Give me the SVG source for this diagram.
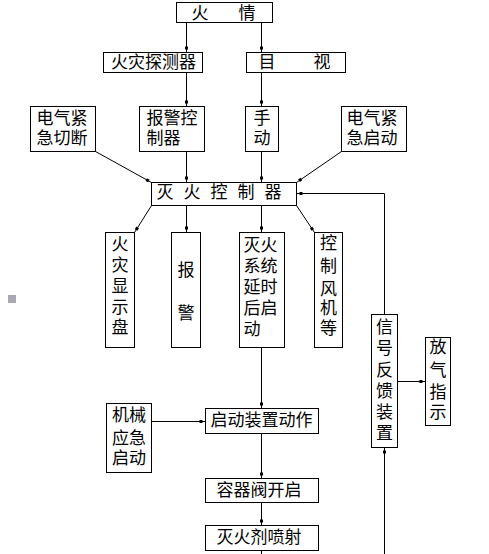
<svg xmlns="http://www.w3.org/2000/svg" width="489" height="554" viewBox="0 0 489 554">
<style>
rect.b{fill:#fff;stroke:#000;stroke-width:1}
text{font-family:"Liberation Sans","Noto Sans CJK SC","Noto Sans CJK JP",sans-serif;font-size:17px;fill:#000}
.m{text-anchor:middle}
.c path,.c line,.c polyline{fill:none;stroke:#000;stroke-width:1;marker-end:url(#dot)}
</style>
<defs>
<marker id="dot" markerUnits="userSpaceOnUse" markerWidth="8" markerHeight="4" viewBox="0 0 8 4" refX="8" refY="2" orient="auto">
<rect x="2" y="0.5" width="3" height="3" fill="#000"/>
</marker>
</defs>
<rect x="8" y="295" width="8" height="8" fill="#a9a9b6"/>
<g class="c" id="connectors">
<line x1="186.5" y1="22.5" x2="186.5" y2="52.5"/>
<line x1="261.5" y1="22.5" x2="261.5" y2="52.5"/>
<line x1="186.5" y1="72.5" x2="186.5" y2="106.5"/>
<line x1="261.5" y1="72.5" x2="261.5" y2="106.5"/>
<line x1="95.5" y1="151.5" x2="151.5" y2="182.5"/>
<line x1="186.5" y1="151.5" x2="186.5" y2="182.5"/>
<line x1="261.5" y1="151.5" x2="261.5" y2="182.5"/>
<line x1="341.5" y1="151.5" x2="296.5" y2="182.5"/>
<line x1="151.5" y1="205.5" x2="134.5" y2="232.5"/>
<line x1="186.5" y1="205.5" x2="186.5" y2="232.5"/>
<line x1="261.5" y1="205.5" x2="261.5" y2="232.5"/>
<line x1="296.5" y1="205.5" x2="314.5" y2="232.5"/>
<polyline points="384.5,314.5 384.5,193.5 296.5,193.5"/>
<line x1="261.5" y1="347.5" x2="261.5" y2="408.5"/>
<line x1="151.5" y1="421.5" x2="205.5" y2="421.5"/>
<line x1="261.5" y1="433.5" x2="261.5" y2="478.5"/>
<line x1="261.5" y1="502.5" x2="261.5" y2="525.5"/>
<line x1="261.5" y1="550.5" x2="261.5" y2="554" style="marker-end:none"/>
<line x1="384.5" y1="554" x2="384.5" y2="447.5"/>
<line x1="397.5" y1="381.5" x2="425.5" y2="381.5"/>
</g>
<g id="n_fire"><rect class="b" x="176.5" y="2.5" width="96" height="20"/><text y="18.5" class="m"><tspan x="200">火</tspan><tspan x="247">情</tspan></text></g>
<g id="n_detector"><rect class="b" x="103.5" y="52.5" width="99" height="20"/><text x="153.5" y="68" class="m">火灾探测器</text></g>
<g id="n_visual"><rect class="b" x="246.5" y="52.5" width="99" height="20"/><text y="68" class="m"><tspan x="267">目</tspan><tspan x="322">视</tspan></text></g>
<g id="n_ecut"><rect class="b" x="30.5" y="106.5" width="65" height="45"/><text><tspan x="36.5" y="124">电气紧</tspan><tspan x="36.5" y="144">急切断</tspan></text></g>
<g id="n_alarmctl"><rect class="b" x="139.5" y="106.5" width="65" height="45"/><text><tspan x="146.5" y="124">报警控</tspan><tspan x="146.5" y="144">制器</tspan></text></g>
<g id="n_manual"><rect class="b" x="245.5" y="106.5" width="33" height="45"/><text class="m"><tspan x="262" y="124">手</tspan><tspan x="262" y="144">动</tspan></text></g>
<g id="n_estart"><rect class="b" x="341.5" y="106.5" width="65" height="45"/><text><tspan x="346.5" y="124">电气紧</tspan><tspan x="346.5" y="144">急启动</tspan></text></g>
<g id="n_ctrl"><rect class="b" x="151.5" y="182.5" width="145" height="23"/><text x="156.5" y="198" style="letter-spacing:10px">灭火控制器</text></g>
<g id="n_display"><rect class="b" x="105.5" y="232.5" width="29" height="115"/><text class="m"><tspan x="120" y="250">火</tspan><tspan x="120" y="271">灾</tspan><tspan x="120" y="292">显</tspan><tspan x="120" y="312.5">示</tspan><tspan x="120" y="333">盘</tspan></text></g>
<g id="n_alarm"><rect class="b" x="171.5" y="232.5" width="29" height="115"/><text class="m"><tspan x="186" y="276">报</tspan><tspan x="186" y="319">警</tspan></text></g>
<g id="n_delay"><rect class="b" x="239.5" y="232.5" width="45" height="115"/><text><tspan x="243.5" y="251">灭火</tspan><tspan x="243.5" y="272">系统</tspan><tspan x="243.5" y="293">延时</tspan><tspan x="243.5" y="314">后启</tspan><tspan x="243.5" y="335">动</tspan></text></g>
<g id="n_fan"><rect class="b" x="314.5" y="232.5" width="28" height="115"/><text class="m"><tspan x="328.5" y="249">控</tspan><tspan x="328.5" y="272">制</tspan><tspan x="328.5" y="295">风</tspan><tspan x="328.5" y="314">机</tspan><tspan x="328.5" y="334">等</tspan></text></g>
<g id="n_feedback"><rect class="b" x="371.5" y="314.5" width="26" height="133"/><text class="m"><tspan x="384.5" y="333">信</tspan><tspan x="384.5" y="354">号</tspan><tspan x="384.5" y="376">反</tspan><tspan x="384.5" y="397">馈</tspan><tspan x="384.5" y="418">装</tspan><tspan x="384.5" y="439">置</tspan></text></g>
<g id="n_release"><rect class="b" x="425.5" y="337.5" width="25" height="88"/><text class="m"><tspan x="438" y="353">放</tspan><tspan x="438" y="376">气</tspan><tspan x="438" y="398">指</tspan><tspan x="438" y="418">示</tspan></text></g>
<g id="n_mech"><rect class="b" x="106.5" y="403.5" width="45" height="69"/><text><tspan x="112" y="421">机械</tspan><tspan x="112" y="444">应急</tspan><tspan x="112" y="464">启动</tspan></text></g>
<g id="n_startdev"><rect class="b" x="205.5" y="408.5" width="113" height="25"/><text x="261.5" y="426" class="m">启动装置动作</text></g>
<g id="n_valve"><rect class="b" x="205.5" y="478.5" width="113" height="24"/><text x="259" y="496" class="m">容器阀开启</text></g>
<g id="n_spray"><rect class="b" x="205.5" y="525.5" width="113" height="25"/><text x="259" y="543" class="m">灭火剂喷射</text></g>
</svg>
